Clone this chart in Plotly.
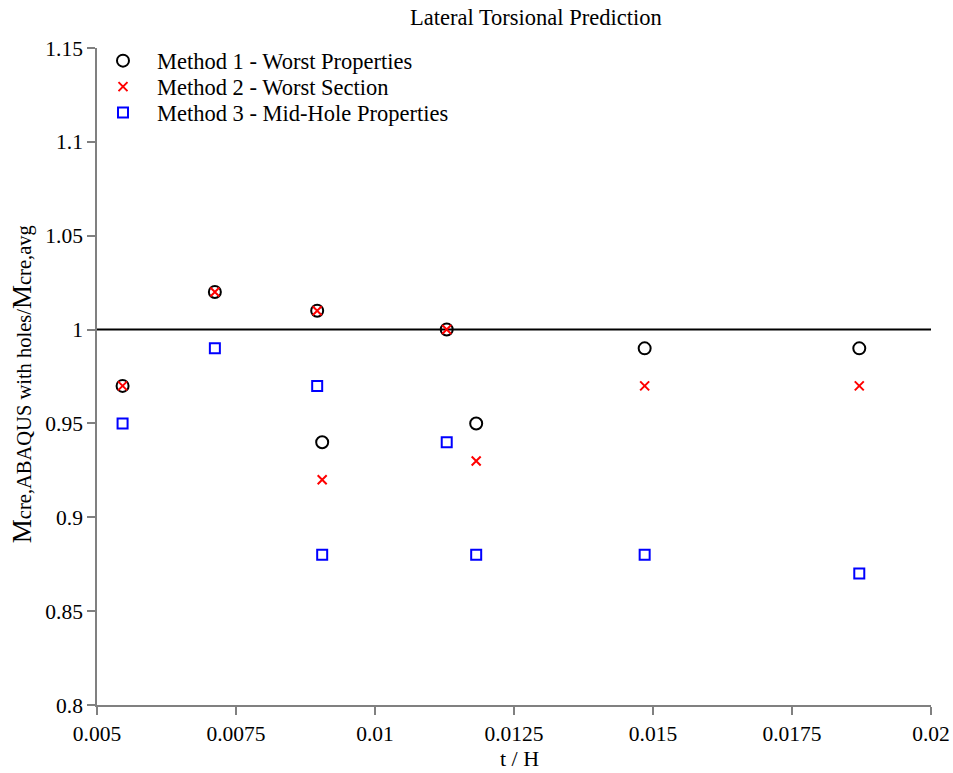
import plotly.graph_objects as go

# t/H ratio of each beam model
t_over_h = [0.00546, 0.00712, 0.00896, 0.00905, 0.01129, 0.01182, 0.01485, 0.01871]

# Ratio Mcre,ABAQUS with holes / Mcre,avg for each prediction method
method1 = [0.97, 1.02, 1.01, 0.94, 1.00, 0.95, 0.99, 0.99]
method2 = [0.97, 1.02, 1.01, 0.92, 1.00, 0.93, 0.97, 0.97]
method3 = [0.95, 0.99, 0.97, 0.88, 0.94, 0.88, 0.88, 0.87]

series_names = [
    "Method 1 - Worst Properties",
    "Method 2 - Worst Section",
    "Method 3 - Mid-Hole Properties",
]

x_ticks = [0.005, 0.0075, 0.01, 0.0125, 0.015, 0.0175, 0.02]
x_tick_text = ["0.005", "0.0075", "0.01", "0.0125", "0.015", "0.0175", "0.02"]
y_ticks = [0.8, 0.85, 0.9, 0.95, 1.0, 1.05, 1.1, 1.15]
y_tick_text = ["0.8", "0.85", "0.9", "0.95", "1", "1.05", "1.1", "1.15"]

FONT = "Liberation Serif"

markers = [
    dict(symbol="circle-open", size=12, color="black", line=dict(width=2, color="black")),
    dict(symbol="x-thin-open", size=9, color="red", line=dict(width=2, color="red")),
    dict(symbol="square-open", size=10, color="blue", line=dict(width=2, color="blue")),
]
legend_ids = ["legend", "legend2", "legend3"]
# vertical centre of each legend row (paper coordinates)
legend_rows = [0.9802, 0.9406, 0.9011]

fig = go.Figure()

for values, name, marker, lid in zip([method1, method2, method3], series_names,
                                     markers, legend_ids):
    fig.add_trace(go.Scatter(
        x=t_over_h, y=values, mode="markers", name=name,
        marker=marker, legend=lid, cliponaxis=False,
    ))

# Reference line at ratio = 1
fig.add_shape(type="line", xref="paper", x0=0, x1=1, yref="y", y0=1, y1=1,
              line=dict(color="black", width=2), layer="below")

axis_common = dict(
    showline=True, linecolor="#808080", linewidth=1.5,
    ticks="outside", ticklen=8, tickwidth=1.5, tickcolor="#808080",
    showgrid=False, zeroline=False, automargin=False,
    tickfont=dict(family=FONT, size=21.5, color="black"),
)

fig.update_xaxes(range=[0.005, 0.02], tickmode="array", tickvals=x_ticks,
                 ticktext=x_tick_text, **axis_common)
fig.update_yaxes(range=[0.8, 1.15], tickmode="array", tickvals=y_ticks,
                 ticktext=y_tick_text, **axis_common)

legend_style = dict(
    x=-0.0096, xanchor="left", yanchor="middle",
    font=dict(family=FONT, size=22.5, color="black"),
    bgcolor="rgba(0,0,0,0)", itemwidth=58,
)

fig.update_layout(
    width=953, height=773,
    margin=dict(l=97, r=22, t=48, b=68, autoexpand=False),
    plot_bgcolor="white", paper_bgcolor="white",
    font=dict(family=FONT, color="black"),
    showlegend=True,
    legend=dict(y=legend_rows[0], **legend_style),
    legend2=dict(y=legend_rows[1], **legend_style),
    legend3=dict(y=legend_rows[2], **legend_style),
    annotations=[
        dict(text="Lateral Torsional Prediction", xref="paper", yref="paper",
             x=0.526, y=1.0457, xanchor="center", yanchor="middle",
             showarrow=False, font=dict(family=FONT, size=22.5, color="black")),
        dict(text="t / H", xref="paper", yref="paper",
             x=0.507, y=-0.0807, xanchor="center", yanchor="middle",
             showarrow=False, font=dict(family=FONT, size=22, color="black")),
        dict(text="<span style='font-size:27px'>M</span>cre,ABAQUS with holes/"
                  "<span style='font-size:27px'>M</span>cre,avg",
             xref="paper", yref="paper", x=-0.089, y=0.488,
             xanchor="center", yanchor="middle", textangle=-90,
             showarrow=False, font=dict(family=FONT, size=20.5, color="black")),
    ],
)

fig.write_html("out.html")
